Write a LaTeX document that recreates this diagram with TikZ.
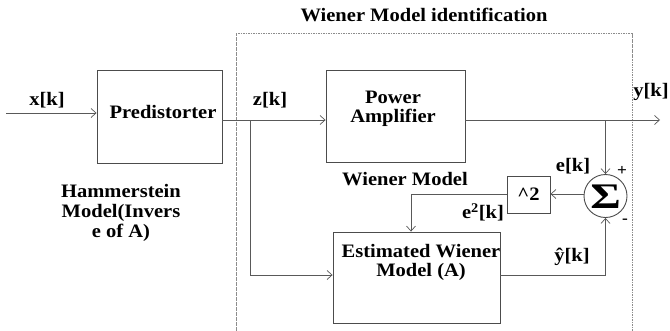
\documentclass[tikz,border=0pt]{standalone}
\usepackage{fontspec}
\setmainfont[FakeStretch=1.08]{Liberation Serif}
\usetikzlibrary{arrows.meta}
\begin{document}
\begin{tikzpicture}[x=1pt,y=-1pt,
  wire/.style={draw=black!65, line width=0.8pt},
  arr/.style={wire, -{Straight Barb[length=5pt,width=9pt,line width=0.7pt]}},
  blk/.style={draw=black!70, line width=0.9pt, inner sep=0pt},
  lbl/.style={font=\fontsize{19}{22}\selectfont\bfseries, inner sep=0pt, align=center},
  sgn/.style={font=\fontsize{16}{16}\selectfont\bfseries, inner sep=0pt},
  frame/.style={draw=black!45, line width=0.8pt, dash pattern=on 1.6pt off 0.9pt}]
\useasboundingbox[fill=white] (0,0) rectangle (670,330);

% dashed frame of the identification part
\draw[frame] (236,331) -- (236,33) -- (632,33) -- (632,331);
\node[lbl] (title) at (424,15) {Wiener Model identification};

% blocks
\node[blk, minimum width=125pt, minimum height=93pt] (pre) at (159.5,116.5) {};
\node[blk, minimum width=139pt, minimum height=92pt] (pa)  at (395.5,116) {};
\node[blk, minimum width=167pt, minimum height=91pt] (est) at (416.5,277.5) {};
\node[blk, minimum width=43pt,  minimum height=37pt] (sq)  at (528.5,194.5) {};
\node[blk, circle, minimum size=43pt] (sum) at (605.5,196) {};

% block texts
\node[lbl] (tpre) at (163,112) {Predistorter};
\node[lbl] (tpa) at (393,109) {Power\\[-3pt]Amplifier};
\node[lbl] (test) at (421,262) {Estimated Wiener\\[-3pt]Model (A)};
\node[lbl] (tsq) at (528.5,194) {\^{}2};
\node[font=\fontsize{36}{36}\selectfont\bfseries, inner sep=0pt] (sig) at (605.5,197) {\scalebox{1.2}[1]{Σ}};

% signal labels
\node[lbl] (lx) at (47,100) {x[k]};
\node[lbl] (lz) at (270,100) {z[k]};
\node[lbl] (ly) at (651,92) {y[k]};
\node[lbl] (le) at (573,166) {e[k]};
\node[lbl] (le2) at (483,212) {e\textsuperscript{2}[k]};
\node[lbl] (lyh) at (572,257) {ŷ[k]};
\node[lbl] (lwm) at (405,179) {Wiener Model};
\node[lbl] (lham) at (121,213) {Hammerstein\\[-2pt]Model(Invers\\[-2pt]e of A)};
\node[sgn] (plus) at (622,171) {+};
\node[sgn] (minus) at (625,221) {-};

% connection points
\coordinate (xin) at (6,113);
\coordinate (zsrc) at (222,120);
\coordinate (zb) at (250,120);
\coordinate (yout) at (660,120);
\coordinate (yb) at (605.5,120);
\coordinate (ec) at (411,194);
\coordinate (yh) at (605.5,275);

% connectors
\draw[arr] (xin) -- (xin -| pre.west);
\draw[arr] (zsrc) -- (zsrc -| pa.west);
\draw[arr] (zb) |- (est.west |- yh);
\draw[arr] (zsrc -| pa.east) -- (yout);
\draw[arr] (yb) -- (sum.north);
\draw[arr] (sum.west |- ec) -- (sq.east |- ec);
\draw[arr] (sq.west |- ec) -- (ec) -- (est.north -| ec);
\draw[arr] (est.east |- yh) -- (yh) -- (sum.south);
\end{tikzpicture}
\end{document}
